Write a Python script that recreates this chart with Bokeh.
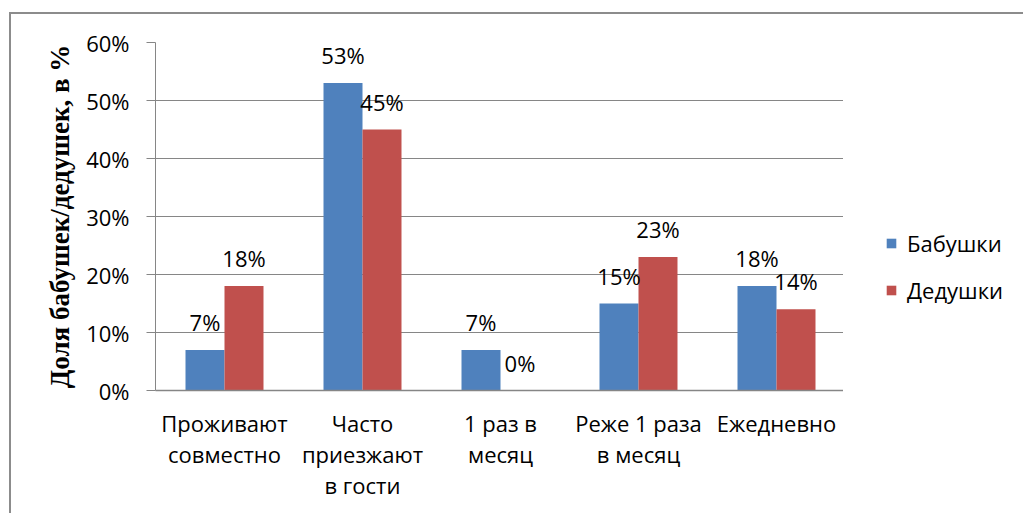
from bokeh.plotting import figure
from bokeh.layouts import row
from bokeh.models import (ColumnDataSource, FactorRange, FixedTicker, NumeralTickFormatter,
                          Range1d, CategoricalAxis, Legend, LegendItem)
from bokeh.transform import dodge
from bokeh.core.properties import value
from bokeh.embed import file_html
from bokeh.resources import INLINE

categories = ["Проживают совместно", "Часто приезжают в гости", "1 раз в месяц", "Реже 1 раза в месяц", "Ежедневно"]
label_line1 = ["Проживают", "Часто", "1 раз в", "Реже 1 раза", "Ежедневно"]
label_line2 = ["совместно", "приезжают", "месяц", "в месяц", ""]
label_line3 = ["", "в гости", "", "", ""]
babushki = [0.07, 0.53, 0.07, 0.15, 0.18]
dedushki = [0.18, 0.45, 0.00, 0.23, 0.14]
series_names = ["Бабушки", "Дедушки"]
y_ticks = [0, 0.1, 0.2, 0.3, 0.4, 0.5, 0.6]

BLUE = "#4F81BD"
RED = "#C0504D"
GRID = "#868686"
BORDER = "2px solid #8c8c8c"
FONT = "Open Sans"
FS = "22px"


def unique_factors(lines):
    # empty lines become distinct blank factors so each range keeps 5 slots
    return [s if s else " " * (i + 1) for i, s in enumerate(lines)]


src = ColumnDataSource(dict(
    cat=categories,
    b=babushki,
    d=dedushki,
    b_lbl=[f"{round(v*100)}%" for v in babushki],
    d_lbl=[f"{round(v*100)}%" for v in dedushki],
))

p = figure(
    x_range=FactorRange(*categories), y_range=Range1d(0, 0.6),
    width=834, height=501, output_backend="svg", toolbar_location=None,
    x_axis_location=None,
    min_border_left=144, min_border_top=28, min_border_bottom=125, min_border_right=0,
    outline_line_color=None,
    margin=(12, 0, 0, 9),
    styles={"border-left": BORDER, "border-top": BORDER},
)
p.extra_x_ranges = {
    "l1": FactorRange(*unique_factors(label_line1)),
    "l2": FactorRange(*unique_factors(label_line2)),
    "l3": FactorRange(*unique_factors(label_line3)),
}

off = 0.1413
w = 0.2826
p.vbar(x=dodge("cat", -off, range=p.x_range), top="b", width=w, source=src,
       fill_color=BLUE, line_color=None)
p.vbar(x=dodge("cat", off, range=p.x_range), top="d", width=w, source=src,
       fill_color=RED, line_color=None)

p.text(x=dodge("cat", -off, range=p.x_range), y="b", text="b_lbl", source=src,
       text_align="center", text_baseline="middle", y_offset=-28,
       text_font=value(FONT), text_font_size=FS, text_color="#000000")
p.text(x=dodge("cat", off, range=p.x_range), y="d", text="d_lbl", source=src,
       text_align="center", text_baseline="middle", y_offset=-28,
       text_font=value(FONT), text_font_size=FS, text_color="#000000")

# grid
p.xgrid.grid_line_color = None
p.ygrid.grid_line_color = GRID
p.ygrid.grid_line_width = 1
p.ygrid.ticker = FixedTicker(ticks=y_ticks)

# y axis
p.yaxis.ticker = FixedTicker(ticks=y_ticks)
p.yaxis.formatter = NumeralTickFormatter(format="0%")
p.yaxis.axis_line_color = GRID
p.yaxis.major_tick_line_color = GRID
p.yaxis.major_tick_out = 9
p.yaxis.major_tick_in = 0
p.yaxis.minor_tick_line_color = None
p.yaxis.major_label_standoff = 17
p.yaxis.major_label_text_font = FONT
p.yaxis.major_label_text_font_size = FS
p.yaxis.major_label_text_color = "#000000"
p.yaxis.axis_label = "Доля бабушек/дедушек, в %"
p.yaxis.axis_label_text_font = "Liberation Serif"
p.yaxis.axis_label_text_font_style = "bold"
p.yaxis.axis_label_text_font_size = "27px"
p.yaxis.axis_label_text_color = "#000000"
p.yaxis.axis_label_standoff = 8


def make_xaxis(range_name, standoff, line_color=None):
    ax = CategoricalAxis(x_range_name=range_name, axis_line_color=line_color)
    ax.major_tick_line_color = None
    ax.minor_tick_line_color = None
    ax.major_tick_out = 0
    ax.major_tick_in = 0
    ax.major_label_standoff = standoff
    ax.major_label_text_font = FONT
    ax.major_label_text_font_size = FS
    ax.major_label_text_color = "#000000"
    p.add_layout(ax, "below")
    return ax


xa1 = make_xaxis("l1", 17, GRID)
xa1.axis_line_width = 1.5
xa2 = make_xaxis("l2", -2)
xa3 = make_xaxis("l3", -2)

# legend panel: a separate frameless figure to the right of the plot area
q = figure(
    width=180, height=501, output_backend="svg", toolbar_location=None,
    x_range=Range1d(0, 1), y_range=Range1d(0, 1),
    x_axis_location=None, y_axis_location=None,
    min_border_left=0, min_border_right=0, min_border_top=0, min_border_bottom=0,
    outline_line_color=None,
    margin=(12, 0, 0, 0),
    styles={"border-top": BORDER},
)
q.xgrid.visible = False
q.ygrid.visible = False
# zero-height swatch carriers: they draw nothing, only feed the legend glyphs
swatch = ColumnDataSource(dict(x=[0], top=[0]))
lb = q.vbar(x="x", top="top", width=0, source=swatch, fill_color=BLUE, line_color=None)
ld = q.vbar(x="x", top="top", width=0, source=swatch, fill_color=RED, line_color=None)

lg = Legend(items=[LegendItem(label=series_names[0], renderers=[lb]),
                   LegendItem(label=series_names[1], renderers=[ld])])
lg.location = (42, 85)
lg.glyph_width = 12
lg.glyph_height = 12
lg.label_height = 30
lg.label_standoff = 10
lg.spacing = 17
lg.padding = 0
lg.margin = 0
lg.border_line_color = None
lg.background_fill_alpha = 0
lg.label_text_font = FONT
lg.label_text_font_size = FS
lg.label_text_color = "#000000"
q.add_layout(lg, "center")

layout = row(p, q)
open("out.html", "w").write(file_html(layout, INLINE))
